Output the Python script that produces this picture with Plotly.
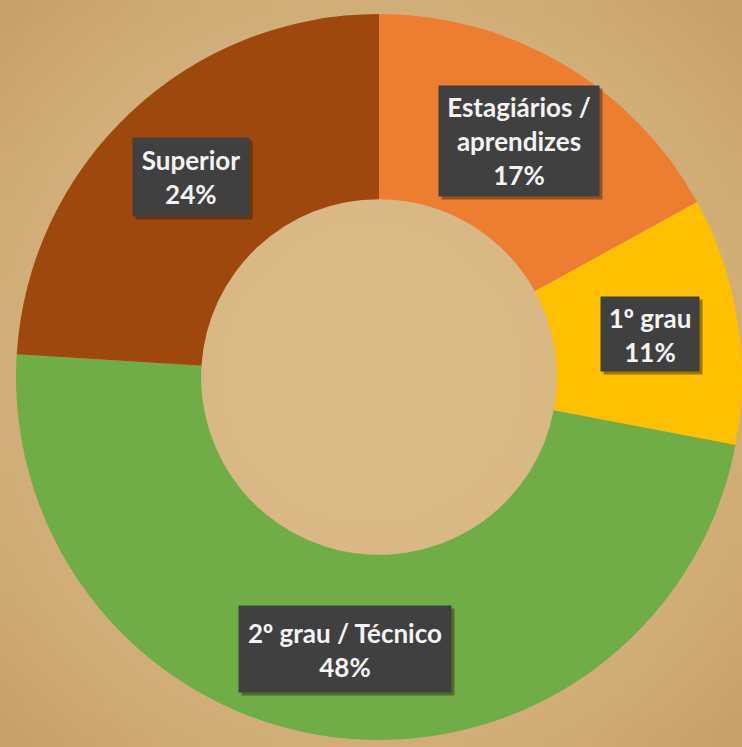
import math, zlib, struct, base64
import plotly.graph_objects as go

labels = ["Estagiários /<br>aprendizes", "1º grau", "2º grau / Técnico", "Superior"]
values = [17, 11, 48, 24]
colors = ["#ED7D31", "#FFC000", "#70AD47", "#9E480E"]

# label box sizes (style only, px)
box_w = [160, 98, 212, 116]
box_h = [110, 74, 86, 78]

W, H = 742, 747
HOLE = 0.49
# pie domain (pixels from left / top)
X0, X1 = 16, 742
Y0, Y1 = 14, 740

# --- background vignette image (generated, no network) ---
def make_bg(n=96):
    raw = b""
    for j in range(n):
        raw += b"\x00"
        for i in range(n):
            dx = (i + 0.5) / n - 0.5
            dy = (j + 0.5) / n - 0.5
            d = min(1.0, math.sqrt(dx * dx + dy * dy) / 0.72)
            t = d ** 2.2
            c0 = (219, 187, 136)
            c1 = (198, 158, 102)
            px = [int(c0[k] + (c1[k] - c0[k]) * t) for k in range(3)]
            raw += bytes(px)
    def chunk(tag, data):
        return struct.pack(">I", len(data)) + tag + data + struct.pack(">I", zlib.crc32(tag + data) & 0xffffffff)
    png = b"\x89PNG\r\n\x1a\n" + chunk(b"IHDR", struct.pack(">IIBBBBB", n, n, 8, 2, 0, 0, 0))
    png += chunk(b"IDAT", zlib.compress(raw, 9)) + chunk(b"IEND", b"")
    return "data:image/png;base64," + base64.b64encode(png).decode()

fig = go.Figure(go.Pie(
    labels=labels, values=values, sort=False, direction="clockwise", rotation=0,
    hole=HOLE, marker=dict(colors=colors, line=dict(width=0)),
    textinfo="none", showlegend=False, hoverinfo="label+percent",
    domain=dict(x=[X0 / W, X1 / W], y=[1 - Y1 / H, 1 - Y0 / H]),
))

# label positions computed from the data (mid-angle of each slice, mid-ring radius)
cx, cy = (X0 + X1) / 2, (Y0 + Y1) / 2
R = min(X1 - X0, Y1 - Y0) / 2
rm = R * (1 + HOLE) / 2 + 4
total = sum(values)
cum = 0
annos = []
for lab, v, bw, bh in zip(labels, values, box_w, box_h):
    mid = (cum + v / 2) / total * 2 * math.pi
    cum += v
    px = cx + rm * math.sin(mid)
    py = cy - rm * math.cos(mid)
    shown = lab.replace("º", "<span style='font-family:\"Open Sans\"'>º</span>")
    txt = f"<b>{shown}<br>{round(v / total * 100)}%</b>"
    base = dict(x=px / W, y=1 - py / H, xref="paper", yref="paper",
                xanchor="center", yanchor="middle", showarrow=False,
                align="center", valign="middle", borderpad=0, width=bw, height=bh)
    # drop shadow box
    annos.append(dict(base, text=" ", xshift=3, yshift=-3,
                      bgcolor="rgba(45,30,15,0.45)", font=dict(size=4)))
    # label box
    annos.append(dict(base, text=txt, bgcolor="#404040",
                      font=dict(family="Lato", size=26, color="#F4F4F4")))

fig.update_layout(
    width=W, height=H, margin=dict(l=0, r=0, t=0, b=0),
    paper_bgcolor="#D4AE78", plot_bgcolor="#D4AE78",
    images=[dict(source=make_bg(), xref="paper", yref="paper", x=0, y=1, sizex=1, sizey=1,
                 sizing="stretch", layer="below")],
    annotations=annos,
)
fig.write_html("out.html", config={"displayModeBar": False},
               post_script="document.body.style.margin='0';document.body.style.overflow='hidden';")
